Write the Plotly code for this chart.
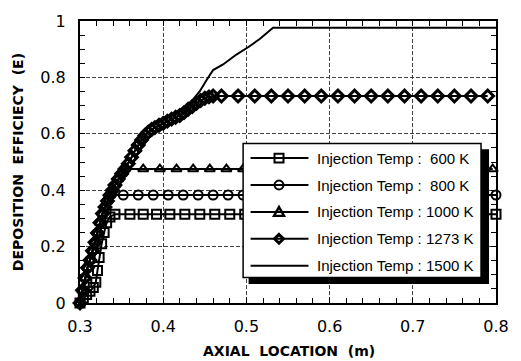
import plotly.graph_objects as go

# ---------------- data ----------------
x_600 = [0.300, 0.304, 0.308, 0.312, 0.316, 0.319, 0.321, 0.323, 0.326, 0.329, 0.332, 0.336,
         0.342, 0.360, 0.376, 0.392, 0.408, 0.426, 0.444, 0.462, 0.480, 0.498, 0.516, 0.533,
         0.551, 0.569, 0.587, 0.604, 0.622, 0.640, 0.658, 0.676, 0.693, 0.711, 0.729, 0.747,
         0.764, 0.782, 0.800]
y_600 = [0.000, 0.015, 0.030, 0.042, 0.055, 0.074, 0.115, 0.161, 0.210, 0.250, 0.285, 0.305,
         0.315, 0.315, 0.315, 0.315, 0.315, 0.315, 0.315, 0.315, 0.315, 0.315, 0.315, 0.315,
         0.315, 0.315, 0.315, 0.315, 0.315, 0.315, 0.315, 0.315, 0.315, 0.315, 0.315, 0.315,
         0.315, 0.315, 0.315]

x_800 = [0.300, 0.303, 0.306, 0.309, 0.312, 0.315, 0.318, 0.321, 0.324, 0.327, 0.330, 0.333,
         0.336, 0.352, 0.370, 0.388, 0.406, 0.424, 0.442, 0.460, 0.478, 0.496, 0.514, 0.532,
         0.550, 0.568, 0.586, 0.604, 0.622, 0.640, 0.658, 0.676, 0.694, 0.712, 0.730, 0.748,
         0.766, 0.784, 0.800]
y_800 = [0.000, 0.045, 0.089, 0.125, 0.152, 0.185, 0.215, 0.248, 0.285, 0.317, 0.340, 0.362,
         0.383, 0.383, 0.383, 0.383, 0.383, 0.383, 0.383, 0.383, 0.383, 0.383, 0.383, 0.383,
         0.383, 0.383, 0.383, 0.383, 0.383, 0.383, 0.383, 0.383, 0.383, 0.383, 0.383, 0.383,
         0.383, 0.383, 0.383]

x_1000 = [0.300, 0.303, 0.306, 0.309, 0.312, 0.315, 0.318, 0.321, 0.324, 0.327, 0.330, 0.333,
          0.336, 0.339, 0.342, 0.346, 0.350, 0.354, 0.376, 0.396, 0.416, 0.436, 0.456, 0.476,
          0.496, 0.516, 0.536, 0.556, 0.576, 0.596, 0.616, 0.636, 0.656, 0.676, 0.696, 0.716,
          0.736, 0.756, 0.776, 0.796]
y_1000 = [0.000, 0.045, 0.089, 0.125, 0.152, 0.185, 0.215, 0.248, 0.285, 0.317, 0.340, 0.362,
          0.382, 0.400, 0.418, 0.440, 0.458, 0.475, 0.475, 0.475, 0.475, 0.475, 0.475, 0.475,
          0.475, 0.475, 0.475, 0.475, 0.475, 0.475, 0.475, 0.475, 0.475, 0.475, 0.475, 0.475,
          0.475, 0.475, 0.475, 0.475]

x_1273 = [0.300, 0.303, 0.306, 0.309, 0.312, 0.315, 0.318, 0.321, 0.324, 0.327, 0.330, 0.333,
          0.336, 0.339, 0.342, 0.346, 0.350, 0.354, 0.358, 0.362, 0.366, 0.370, 0.374, 0.378,
          0.382, 0.386, 0.390, 0.395, 0.400, 0.405, 0.410, 0.415, 0.420, 0.425, 0.430, 0.435,
          0.440, 0.445, 0.450, 0.455, 0.460, 0.470, 0.490, 0.510, 0.530, 0.550, 0.570, 0.590,
          0.610, 0.630, 0.650, 0.670, 0.690, 0.710, 0.730, 0.750, 0.770, 0.790]
y_1273 = [0.000, 0.045, 0.089, 0.125, 0.152, 0.185, 0.215, 0.248, 0.285, 0.317, 0.340, 0.362,
          0.382, 0.400, 0.418, 0.440, 0.458, 0.475, 0.494, 0.517, 0.540, 0.560, 0.578, 0.594,
          0.606, 0.615, 0.622, 0.630, 0.637, 0.645, 0.652, 0.659, 0.665, 0.675, 0.687, 0.697,
          0.708, 0.718, 0.726, 0.731, 0.734, 0.734, 0.734, 0.734, 0.734, 0.734, 0.734, 0.734,
          0.734, 0.734, 0.734, 0.734, 0.734, 0.734, 0.734, 0.734, 0.734, 0.734]

x_1500 = [0.300, 0.303, 0.306, 0.309, 0.312, 0.315, 0.318, 0.321, 0.324, 0.327, 0.330, 0.333,
          0.336, 0.339, 0.342, 0.346, 0.350, 0.354, 0.358, 0.362, 0.366, 0.370, 0.374, 0.378,
          0.382, 0.386, 0.390, 0.395, 0.400, 0.405, 0.410, 0.415, 0.420, 0.425, 0.430, 0.436,
          0.444, 0.452, 0.460, 0.472, 0.488, 0.502, 0.516, 0.532, 0.600, 0.700, 0.800]
y_1500 = [0.000, 0.045, 0.089, 0.125, 0.152, 0.185, 0.215, 0.248, 0.285, 0.317, 0.340, 0.362,
          0.382, 0.400, 0.418, 0.440, 0.458, 0.475, 0.494, 0.517, 0.540, 0.560, 0.578, 0.594,
          0.606, 0.615, 0.622, 0.630, 0.637, 0.645, 0.652, 0.659, 0.667, 0.680, 0.697, 0.722,
          0.751, 0.790, 0.826, 0.846, 0.881, 0.907, 0.936, 0.976, 0.976, 0.976, 0.976]

legend_labels = ["Injection Temp :  600 K", "Injection Temp :  800 K",
                 "Injection Temp : 1000 K", "Injection Temp : 1273 K",
                 "Injection Temp : 1500 K"]

x_tickvals = [0.3, 0.4, 0.5, 0.6, 0.7, 0.8]
x_ticktext = ["0.3", "0.4", "0.5", "0.6", "0.7", "0.8"]
y_tickvals = [0, 0.2, 0.4, 0.6, 0.8, 1.0]
y_ticktext = ["0", "0.2", "0.4", "0.6", "0.8", "1"]

x_title = "AXIAL  LOCATION  (m)"
y_title = "DEPOSITION  EFFICIECY  (E)"

# ---------------- figure ----------------
W, H = 521, 361
ML, MR, MT, MB = 80, 24, 15, 58
PW, PH = W - ML - MR, H - MT - MB


def fx(px):
    return (px - ML) / PW


def fy(py):
    return (H - MB - py) / PH


fig = go.Figure()

marker_series = [
    (x_600, y_600, "square-open", 9, 2),
    (x_800, y_800, "circle-open", 9, 2),
    (x_1000, y_1000, "triangle-up-open", 9, 2),
    (x_1273, y_1273, "diamond-open", 9, 3),
]
for xs, ys, sym, size, mlw in marker_series:
    fig.add_trace(go.Scatter(
        x=xs, y=ys, mode="lines+markers", cliponaxis=False, showlegend=False,
        line=dict(color="black", width=2),
        marker=dict(symbol=sym, size=size, color="black", line=dict(width=mlw, color="black")),
    ))

fig.add_trace(go.Scatter(
    x=x_1500, y=y_1500, mode="lines", cliponaxis=False, showlegend=False,
    line=dict(color="black", width=2),
))

tickfont = dict(family="DejaVu Sans", size=16, color="black")

fig.update_xaxes(
    range=[0.3, 0.8], tickvals=x_tickvals, ticktext=x_ticktext, tickfont=tickfont,
    showline=True, linecolor="black", linewidth=2, mirror="allticks",
    ticks="inside", ticklen=5, tickwidth=1, tickcolor="black", ticklabelstandoff=8,
    showgrid=True, gridcolor="#444444", gridwidth=1, griddash="4px,2px",
    minor=dict(dtick=0.02, tick0=0.3, ticks="inside", ticklen=5, tickcolor="black",
               tickwidth=1, showgrid=False),
    zeroline=False, fixedrange=True,
)
fig.update_yaxes(
    range=[0, 1], tickvals=y_tickvals, ticktext=y_ticktext, tickfont=tickfont,
    showline=True, linecolor="black", linewidth=2, mirror="allticks",
    ticks="inside", ticklen=5, tickwidth=1, tickcolor="black", ticklabelstandoff=9,
    showgrid=True, gridcolor="#444444", gridwidth=1, griddash="4px,2px",
    minor=dict(dtick=0.05, tick0=0, ticks="inside", ticklen=5, tickcolor="black",
               tickwidth=1, showgrid=False),
    zeroline=False, fixedrange=True,
)

# ---------------- hand-drawn legend box ----------------
shapes = []
# shadow
shapes.append(dict(type="rect", xref="paper", yref="paper", layer="above",
                   x0=fx(249), x1=fx(490), y0=fy(146), y1=fy(283.5),
                   fillcolor="black", line=dict(width=0)))
# box
shapes.append(dict(type="rect", xref="paper", yref="paper", layer="above",
                   x0=fx(243.5), x1=fx(482), y0=fy(140), y1=fy(277),
                   fillcolor="white", line=dict(color="black", width=1.5)))

rows = [155, 182.5, 210, 237.5, 265]
lx0, lx1, mx = 251, 309, 279.5
ms = 4.5
annotations = []
for i, (py, lab) in enumerate(zip(rows, legend_labels)):
    shapes.append(dict(type="line", xref="paper", yref="paper", layer="above",
                       x0=fx(lx0), x1=fx(lx1), y0=fy(py), y1=fy(py),
                       line=dict(color="black", width=2)))
    if i == 0:
        shapes.append(dict(type="rect", xref="paper", yref="paper", layer="above",
                           x0=fx(mx - ms), x1=fx(mx + ms), y0=fy(py - ms), y1=fy(py + ms),
                           fillcolor="rgba(0,0,0,0)", line=dict(color="black", width=2)))
    elif i == 1:
        shapes.append(dict(type="circle", xref="paper", yref="paper", layer="above",
                           x0=fx(mx - ms), x1=fx(mx + ms), y0=fy(py - ms), y1=fy(py + ms),
                           fillcolor="rgba(0,0,0,0)", line=dict(color="black", width=2)))
    elif i == 2:
        path = "M {},{} L {},{} L {},{} Z".format(
            fx(mx), fy(py - ms - 0.5), fx(mx + ms + 0.5), fy(py + ms - 0.5),
            fx(mx - ms - 0.5), fy(py + ms - 0.5))
        shapes.append(dict(type="path", xref="paper", yref="paper", layer="above", path=path,
                           fillcolor="rgba(0,0,0,0)", line=dict(color="black", width=2.4)))
    elif i == 3:
        path = "M {},{} L {},{} L {},{} L {},{} Z".format(
            fx(mx), fy(py - ms), fx(mx + ms), fy(py), fx(mx), fy(py + ms), fx(mx - ms), fy(py))
        shapes.append(dict(type="path", xref="paper", yref="paper", layer="above", path=path,
                           fillcolor="rgba(0,0,0,0)", line=dict(color="black", width=3)))
    annotations.append(dict(xref="paper", yref="paper", x=fx(316), y=fy(py), text=lab,
                            showarrow=False, xanchor="left", yanchor="middle",
                            font=dict(family="Liberation Sans", size=15, color="black")))

# axis titles
annotations.append(dict(xref="paper", yref="paper", x=fx(290), y=fy(352), text=x_title,
                        showarrow=False, xanchor="center", yanchor="middle",
                        font=dict(family="DejaVu Sans", size=14, color="black", weight="bold")))
annotations.append(dict(xref="paper", yref="paper", x=fx(18), y=fy(159), text=y_title,
                        showarrow=False, xanchor="center", yanchor="middle", textangle=-90,
                        font=dict(family="DejaVu Sans", size=14, color="black", weight="bold")))

fig.update_layout(
    width=W, height=H, autosize=False,
    margin=dict(l=ML, r=MR, t=MT, b=MB, pad=0),
    paper_bgcolor="white", plot_bgcolor="white",
    shapes=shapes, annotations=annotations, showlegend=False,
)

fig.write_html("out.html", config={"displayModeBar": False})
